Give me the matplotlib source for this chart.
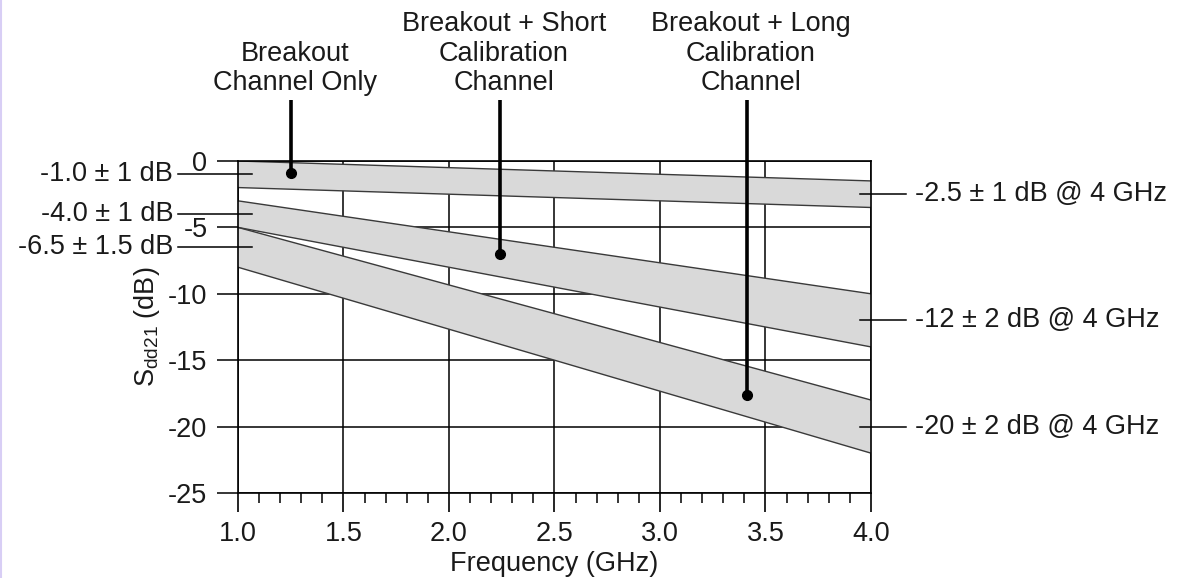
import matplotlib
matplotlib.use("Agg")
import matplotlib.pyplot as plt
import numpy as np
from matplotlib.lines import Line2D

plt.rcParams['font.family'] = ['Liberation Sans', 'DejaVu Sans']
plt.rcParams['mathtext.fontset'] = 'custom'
plt.rcParams['mathtext.rm'] = 'Liberation Sans'
plt.rcParams['mathtext.it'] = 'Liberation Sans'
plt.rcParams['axes.unicode_minus'] = False

# loss limits: centre and tolerance at 1 GHz and at 4 GHz
freq = [1.0, 4.0]
start_center = [-1.0, -4.0, -6.5]
start_tol = [1.0, 1.0, 1.5]
end_center = [-2.5, -12.0, -20.0]
end_tol = [1.0, 2.0, 2.0]

channel_names = ["Breakout\nChannel Only",
                 "Breakout + Short\nCalibration\nChannel",
                 "Breakout + Long\nCalibration\nChannel"]
marker_x = [1.25, 2.24, 3.41]
marker_y = [-0.9, -7.0, -17.6]

start_labels = ["-1.0 ± 1 dB", "-4.0 ± 1 dB", "-6.5 ± 1.5 dB"]
end_labels = ["-2.5 ± 1 dB @ 4 GHz", "-12 ± 2 dB @ 4 GHz", "-20 ± 2 dB @ 4 GHz"]

fs = 19.5
ink = '#1a1a1a'

fig = plt.figure(figsize=(11.85, 5.78), dpi=100)
ax = fig.add_axes([238 / 1185, 1 - 493 / 578, 633 / 1185, 332 / 578])

# tolerance bands
for sc, st, ec, et in zip(start_center, start_tol, end_center, end_tol):
    upper = [sc + st, ec + et]
    lower = [sc - st, ec - et]
    ax.fill_between(freq, lower, upper, facecolor='#d9d9d9', edgecolor='none', zorder=1)
    ax.plot(freq, upper, color='#3a3a3a', lw=1.0, zorder=2)
    ax.plot(freq, lower, color='#3a3a3a', lw=1.0, zorder=2)

ax.set_xlim(1.0, 4.0)
ax.set_ylim(-25, 0)
ax.set_xticks(np.arange(1.0, 4.01, 0.5))
ax.set_xticks(np.arange(1.0, 4.01, 0.1), minor=True)
ax.set_xticklabels([f"{v:.1f}" for v in np.arange(1.0, 4.01, 0.5)])
ax.set_yticks(np.arange(-25, 1, 5))
ax.grid(True, which='major', color='black', lw=1.1, zorder=0)
ax.set_axisbelow(True)
for s in ax.spines.values():
    s.set_linewidth(1.2)
    s.set_zorder(3)

ax.tick_params(axis='x', which='major', direction='out', length=14, width=1.2,
               labelsize=fs, pad=6, colors='black', labelcolor=ink)
ax.tick_params(axis='x', which='minor', direction='out', length=7, width=1.1)
ax.tick_params(axis='y', which='major', direction='out', length=15, width=1.1,
               labelsize=fs, pad=7, labelcolor=ink)

ax.set_xlabel("Frequency (GHz)", fontsize=fs, color=ink)
ax.xaxis.set_label_coords(0.5, -0.176)
ax.set_ylabel(r"S$_{\mathrm{dd21}}$ (dB)", fontsize=fs, color=ink)
ax.yaxis.set_label_coords(-0.12, 0.5)

# channel callouts above the plot
for name, mx, my in zip(channel_names, marker_x, marker_y):
    ax.plot([mx, mx], [my, 4.6], color='black', lw=2.6, clip_on=False, zorder=5,
            solid_capstyle='butt')
    ax.plot(mx, my, 'o', color='black', ms=7, zorder=6, clip_on=False)
    ax.text(mx + 0.02, 4.9, name, ha='center', va='bottom', fontsize=fs,
            color=ink, linespacing=1.17, clip_on=False)

# limits at 1 GHz on the left
for c, lab in zip(start_center, start_labels):
    ax.plot([0.715, 1.066], [c, c], color='black', lw=1.1, clip_on=False, zorder=4)
    ax.text(0.692, c, lab, ha='right', va='center', fontsize=fs, color=ink)

# limits at 4 GHz on the right
for c, lab in zip(end_center, end_labels):
    ax.plot([3.948, 4.166], [c, c], color='black', lw=1.1, clip_on=False, zorder=4)
    ax.text(4.21, c, lab, ha='left', va='center', fontsize=fs, color=ink)

fig.add_artist(Line2D([0.0008, 0.0008], [0, 1], color='#d8cef5', lw=1.5))

fig.savefig("out.png", dpi=100)
